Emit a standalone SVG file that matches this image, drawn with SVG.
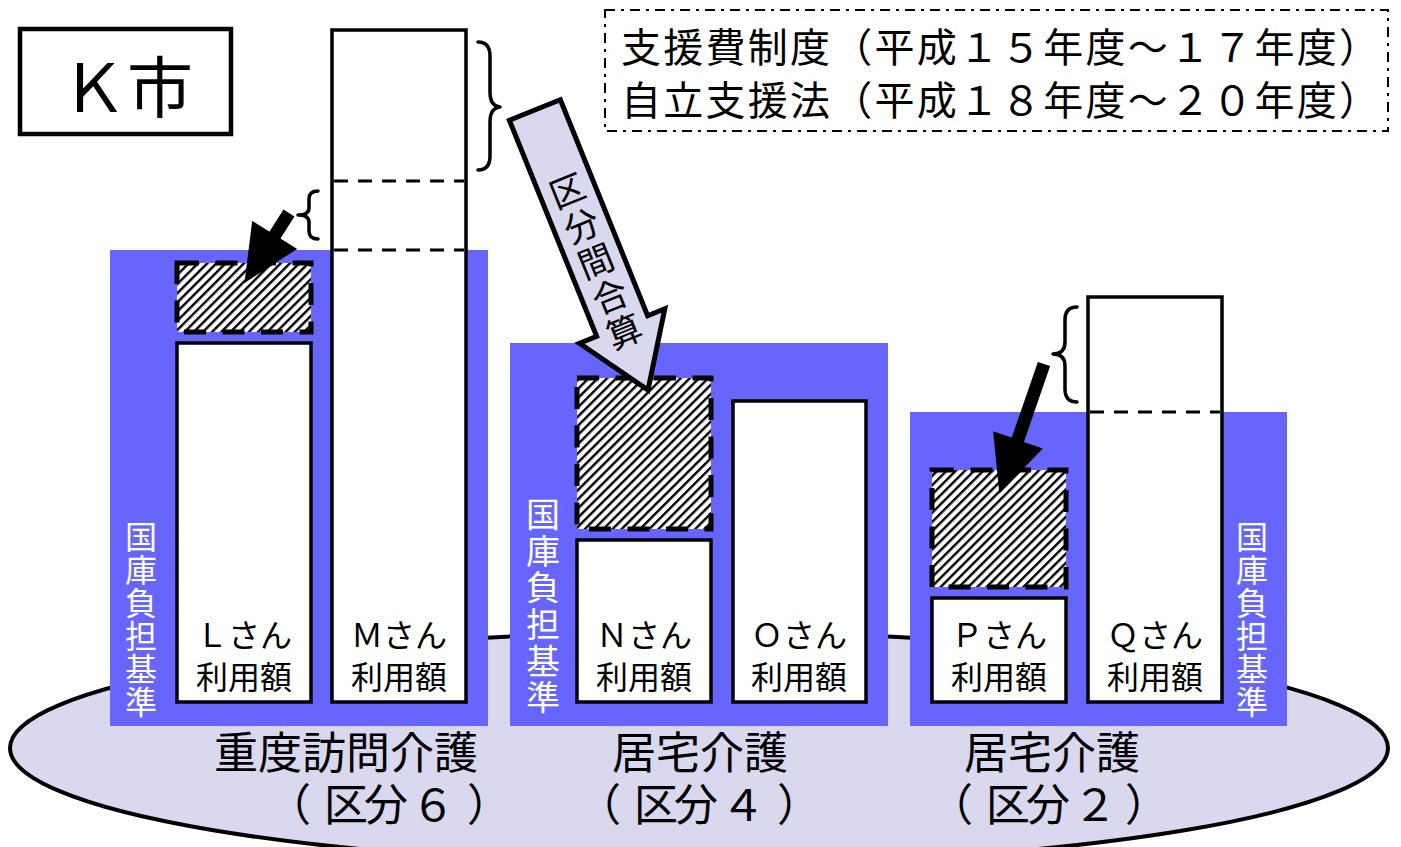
<svg xmlns="http://www.w3.org/2000/svg" width="1401" height="847" viewBox="0 0 1401 847">
<style>
  text { font-family: "Noto Sans CJK JP", "Noto Sans CJK SC", sans-serif; fill: #000; }
  .panel { fill: #6666FF; }
  .bar { fill: #fff; stroke: #000; stroke-width: 3.5; }
  .hatch { fill: url(#hatch); stroke: #000; stroke-width: 5; stroke-dasharray: 22 16.5; }
  .dash { stroke: #000; stroke-width: 3; stroke-dasharray: 14 10; fill: none; }
  .brace { fill: none; stroke: #000; stroke-width: 3.5; stroke-linecap: round; stroke-linejoin: round; }
  .shaft { stroke: #000; stroke-width: 13; fill: none; }
  .head { stroke: #000; stroke-width: 12; fill: #000; stroke-linecap: round; stroke-linejoin: miter; }
  .vlabel { fill: #fff; font-size: 32px; writing-mode: vertical-rl; letter-spacing: 1px; }
  .blabel { font-size: 32px; text-anchor: middle; }
  .glabel { font-size: 44px; text-anchor: middle; }
  .glabel2 { font-size: 44px; text-anchor: start; }
</style>
<defs>
  <pattern id="hatch" patternUnits="userSpaceOnUse" width="6.5" height="6" patternTransform="rotate(45)">
    <rect width="6.5" height="6" fill="#fff"/>
    <rect x="0" y="0" width="2.4" height="6" fill="#000"/>
  </pattern>
</defs>

<g id="ground">
  <ellipse cx="699" cy="748" rx="689" ry="116" fill="#D9D8EE" stroke="#000" stroke-width="4"/>
</g>

<g id="title">
  <rect x="20" y="29" width="211" height="105" fill="#fff" stroke="#000" stroke-width="4.5"/>
  <text x="127" y="112" font-size="66" text-anchor="middle">Ｋ市</text>
</g>

<g id="legend">
  <rect x="605" y="10" width="783" height="121" fill="#fff" stroke="#000" stroke-width="2" stroke-dasharray="10 6 3 6"/>
  <text x="621" y="62" font-size="40" textLength="758" lengthAdjust="spacing">支援費制度（平成１５年度～１７年度）</text>
  <text x="621" y="115" font-size="40" textLength="758" lengthAdjust="spacing">自立支援法（平成１８年度～２０年度）</text>
</g>

<g id="panel-1">
  <rect class="panel" x="110" y="250" width="378" height="476"/>
  <text class="vlabel" x="141" y="521">国庫負担基準</text>
</g>
<g id="panel-2">
  <rect class="panel" x="510" y="343" width="378" height="383"/>
  <text class="vlabel" x="543" y="497" style="font-size:34px; letter-spacing:2.7px">国庫負担基準</text>
</g>
<g id="panel-3">
  <rect class="panel" x="910" y="412" width="377" height="314"/>
  <text class="vlabel" x="1252" y="521">国庫負担基準</text>
</g>

<g id="group-labels">
  <text class="glabel" x="346" y="769">重度訪問介護</text>
  <text class="glabel2" x="267 324 364 411 467" y="821">（区分６）</text>
  <text class="glabel" x="700" y="769">居宅介護</text>
  <text class="glabel2" x="577 634 674 721 777" y="821">（区分４）</text>
  <text class="glabel" x="1052" y="769">居宅介護</text>
  <text class="glabel2" x="929 986 1026 1073 1125" y="821">（区分２）</text>
</g>

<g id="bar-L">
  <rect class="bar" x="177" y="343" width="134" height="359"/>
  <rect class="hatch" x="177" y="263" width="134" height="69"/>
  <text class="blabel" x="244" y="647">Ｌさん</text>
  <text class="blabel" x="244" y="689">利用額</text>
</g>
<g id="bar-M">
  <rect class="bar" x="332" y="30" width="134" height="672"/>
  <line class="dash" x1="334" y1="181" x2="464" y2="181"/>
  <line class="dash" x1="334" y1="250" x2="464" y2="250"/>
  <text class="blabel" x="399" y="647">Ｍさん</text>
  <text class="blabel" x="399" y="689">利用額</text>
</g>
<g id="bar-N">
  <rect class="bar" x="577" y="540" width="134" height="162"/>
  <rect class="hatch" x="577" y="378" width="134" height="151"/>
  <text class="blabel" x="644" y="647">Ｎさん</text>
  <text class="blabel" x="644" y="689">利用額</text>
</g>
<g id="bar-O">
  <rect class="bar" x="733" y="401" width="133" height="301"/>
  <text class="blabel" x="799" y="647">Ｏさん</text>
  <text class="blabel" x="799" y="689">利用額</text>
</g>
<g id="bar-P">
  <rect class="bar" x="932" y="598" width="134" height="104"/>
  <rect class="hatch" x="932" y="470" width="134" height="117"/>
  <text class="blabel" x="999" y="647">Ｐさん</text>
  <text class="blabel" x="999" y="689">利用額</text>
</g>
<g id="bar-Q">
  <rect class="bar" x="1088" y="297" width="134" height="405"/>
  <line class="dash" x1="1090" y1="412" x2="1220" y2="412"/>
  <text class="blabel" x="1155" y="647">Ｑさん</text>
  <text class="blabel" x="1155" y="689">利用額</text>
</g>

<g id="connectors">
  <path class="brace" d="M478,42 Q490,42 490,56 L490,92 Q490,106 500,107 Q490,108 490,122 L490,156 Q490,170 478,170"/>
  <path class="brace" d="M318,191 Q309,191 309,199 L309,208 Q309,215 298,215 Q309,215 309,222 L309,231 Q309,239 318,239"/>
  <path class="brace" d="M1077,307 Q1065,307 1065,320 L1065,342 Q1065,354 1053,354 Q1065,354 1065,366 L1065,389 Q1065,402 1077,402"/>
  <line class="shaft" x1="289" y1="213" x2="254" y2="268"/>
  <path class="head" d="M257,231 L252,271 L286,249 Z"/>
  <line class="shaft" x1="1044" y1="364" x2="1006" y2="474"/>
  <path class="head" d="M1000,440 L1004,480 L1032,451 Z"/>
  <g id="big-arrow" transform="translate(648,390) rotate(-22)">
    <polygon points="-27.5,-302 27.5,-302 27.5,-69 46,-69 0,0 -46,-69 -27.5,-69" fill="#D9D8EE" stroke="#000" stroke-width="5" stroke-linejoin="miter"/>
    <text font-size="35" text-anchor="middle"><tspan x="0" y="-202">区</tspan><tspan x="0" y="-164">分</tspan><tspan x="0" y="-126">間</tspan><tspan x="0" y="-88">合</tspan><tspan x="0" y="-50">算</tspan></text>
  </g>
</g>
</svg>
